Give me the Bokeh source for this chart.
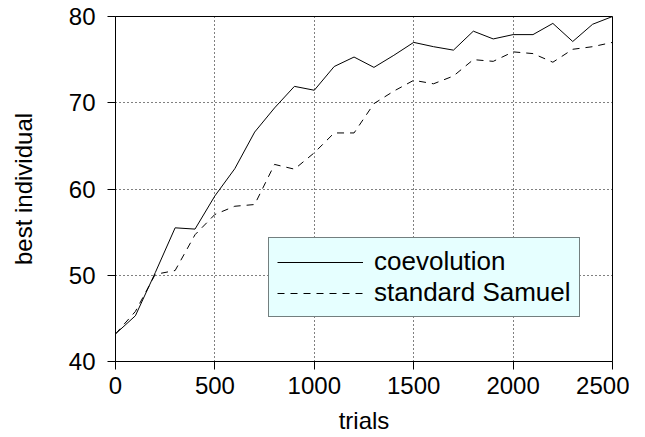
from bokeh.plotting import figure
from bokeh.models import Range1d, FixedTicker, Legend, LegendItem
from bokeh.embed import file_html
from bokeh.resources import INLINE

trials = [0, 100, 200, 300, 400, 500, 600, 700, 800, 900, 1000, 1100, 1200,
          1300, 1400, 1500, 1600, 1700, 1800, 1900, 2000, 2100, 2200, 2300, 2400, 2500]
coevolution = [43.2, 45.3, 50.3, 55.5, 55.35, 59.2, 62.35, 66.6, 69.4, 71.9, 71.45, 74.2, 75.3,
               74.1, 75.5, 77.0, 76.5, 76.1, 78.3, 77.4, 77.9, 77.9, 79.2, 77.1, 79.1, 80.0]
standard_samuel = [43.2, 45.8, 50.1, 50.55, 54.7, 57.05, 58.0, 58.2, 62.85, 62.3, 64.2, 66.5, 66.5,
                   69.9, 71.35, 72.6, 72.2, 73.1, 75.0, 74.8, 75.9, 75.7, 74.7, 76.2, 76.5, 77.0]
x_ticks = [0, 500, 1000, 1500, 2000, 2500]
y_ticks = [40, 50, 60, 70, 80]
series_names = ["coevolution", "standard Samuel"]

FONT = "Liberation Sans"

p = figure(output_backend="svg", toolbar_location=None,
           width=629, height=421,
           x_range=Range1d(0, 2500), y_range=Range1d(40, 80),
           min_border_left=115, min_border_top=16, min_border_right=17, min_border_bottom=60)
p.frame_width = 497
p.frame_height = 345
p.background_fill_color = "white"
p.border_fill_color = "white"
p.outline_line_color = "black"
p.outline_line_width = 1
p.outline_line_alpha = 1

for ax, ticks in ((p.xaxis[0], x_ticks), (p.yaxis[0], y_ticks)):
    ax.ticker = FixedTicker(ticks=ticks)
    ax.axis_line_color = "black"
    ax.major_tick_line_color = "black"
    ax.major_tick_out = 8
    ax.major_tick_in = 0
    ax.minor_tick_line_color = None
    ax.major_label_text_font = FONT
    ax.major_label_text_font_size = "24px"
    ax.major_label_text_color = "black"
    ax.axis_label_text_font = FONT
    ax.axis_label_text_font_size = "24px"
    ax.axis_label_text_font_style = "normal"
    ax.axis_label_text_color = "black"

p.xaxis.axis_label = "trials"
p.yaxis.axis_label = "best individual"
p.xaxis.major_label_standoff = 7
p.yaxis.major_label_standoff = 12
p.xaxis.axis_label_standoff = 10
p.yaxis.axis_label_standoff = 29

for g in (p.xgrid[0], p.ygrid[0]):
    g.grid_line_color = "black"
    g.grid_line_dash = "1 3"
    g.grid_line_width = 1
p.xgrid.ticker = FixedTicker(ticks=x_ticks)
p.ygrid.ticker = FixedTicker(ticks=y_ticks)

r1 = p.line(trials, coevolution, line_color="black", line_width=1)
r2 = p.line(trials, standard_samuel, line_color="black", line_width=1, line_dash="7 6")

legend = Legend(items=[LegendItem(label=series_names[0], renderers=[r1]),
                       LegendItem(label=series_names[1], renderers=[r2])],
                location=(153, 44))
legend.background_fill_color = "#e6ffff"
legend.background_fill_alpha = 1
legend.border_line_color = "black"
legend.border_line_width = 1
legend.label_text_font = FONT
legend.label_text_font_size = "26px"
legend.label_text_color = "black"
legend.glyph_width = 86
legend.glyph_height = 20
legend.label_height = 20
legend.label_standoff = 11
legend.padding = 8
legend.spacing = -3
legend.margin = 0
p.add_layout(legend, "center")

open("out.html", "w").write(file_html(p, INLINE))
